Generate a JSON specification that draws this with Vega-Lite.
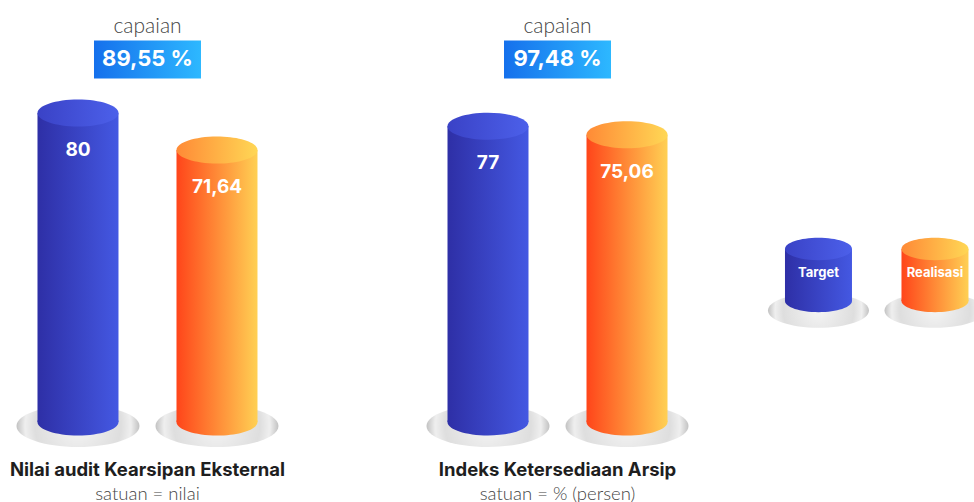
{
  "$schema": "https://vega.github.io/schema/vega-lite/v6.json",
  "padding": 0,
  "spacing": 0,
  "background": "white",
  "config": {"view": {"stroke": null}, "axis": {"disable": true}},
  "datasets": {
    "bars": [
      {"group": "Nilai audit Kearsipan Eksternal", "series": "Target", "value": 80, "label": "80"},
      {"group": "Nilai audit Kearsipan Eksternal", "series": "Realisasi", "value": 71.64, "label": "71,64"},
      {"group": "Indeks Ketersediaan Arsip", "series": "Target", "value": 77, "label": "77"},
      {"group": "Indeks Ketersediaan Arsip", "series": "Realisasi", "value": 75.06, "label": "75,06"}
    ],
    "groups": [
      {"group": "Nilai audit Kearsipan Eksternal", "capaian": "89,55 %", "satuan": "satuan = nilai"},
      {"group": "Indeks Ketersediaan Arsip", "capaian": "97,48 %", "satuan": "satuan = % (persen)"}
    ],
    "legend": [
      {"series": "Target"},
      {"series": "Realisasi"}
    ]
  },
  "hconcat": [
    {
      "width": 705,
      "height": 502,
      "encoding": {
        "x": {"field": "group", "type": "nominal", "scale": {"type": "band", "domain": ["Nilai audit Kearsipan Eksternal", "Indeks Ketersediaan Arsip"], "paddingInner": 0.32195, "paddingOuter": 0.0207}}
      },
      "layer": [
        {
          "data": {"name": "bars"},
          "mark": {"type": "point", "shape": "M-1,0C-1,-0.1886,-0.5523,-0.3415,0,-0.3415C0.5523,-0.3415,1,-0.1886,1,0C1,0.1886,0.5523,0.3415,0,0.3415C-0.5523,0.3415,-1,0.1886,-1,0Z", "size": 15129, "filled": true, "opacity": 1, "strokeWidth": 0,
            "fill": {"gradient": "radial", "x1": 0.5, "y1": 0.5, "r1": 0, "x2": 0.5, "y2": 0.5, "r2": 0.5, "stops": [{"offset": 0, "color": "#f4f4f4"}, {"offset": 0.7, "color": "#dedede"}, {"offset": 0.86, "color": "#efefef"}, {"offset": 1, "color": "#c2c2c2"}]}},
          "encoding": {
            "xOffset": {"field": "series", "type": "nominal", "sort": ["Target", "Realisasi"], "scale": {"paddingInner": 0, "paddingOuter": 0}},
            "y": {"datum": 9.28}
          }
        },
        {
          "data": {"name": "bars"},
          "mark": {"type": "point", "shape": "M-1,0C-1,-0.1841,-0.5523,-0.3333,0,-0.3333C0.5523,-0.3333,1,-0.1841,1,0C1,0.1841,0.5523,0.3333,0,0.3333C-0.5523,0.3333,-1,0.1841,-1,0Z", "size": 6561, "filled": true, "opacity": 1, "strokeWidth": 0},
          "encoding": {
            "xOffset": {"field": "series", "type": "nominal", "sort": ["Target", "Realisasi"], "scale": {"paddingInner": 0, "paddingOuter": 0}},
            "y": {"datum": 10.18},
            "fill": {
              "condition": {"test": "datum.series === 'Target'", "value": {"gradient": "linear", "x1": 0, "y1": 0, "x2": 1, "y2": 0, "stops": [{"offset": 0, "color": "#2e2fa6"}, {"offset": 1, "color": "#4458e2"}]}},
              "value": {"gradient": "linear", "x1": 0, "y1": 0, "x2": 1, "y2": 0, "stops": [{"offset": 0, "color": "#ff451a"}, {"offset": 1, "color": "#ffd054"}]}
            }
          }
        },
        {
          "data": {"name": "bars"},
          "mark": {"type": "bar", "width": 81},
          "encoding": {
            "xOffset": {"field": "series", "type": "nominal", "sort": ["Target", "Realisasi"], "scale": {"paddingInner": 0, "paddingOuter": 0}},
            "y": {"field": "value", "type": "quantitative", "scale": {"domain": [-7.89, 105.53], "nice": false, "zero": false}},
            "y2": {"datum": 10.18},
            "fill": {
              "condition": {"test": "datum.series === 'Target'", "value": {"gradient": "linear", "x1": 0, "y1": 0, "x2": 1, "y2": 0, "stops": [{"offset": 0, "color": "#2e2fa6"}, {"offset": 1, "color": "#4458e2"}]}},
              "value": {"gradient": "linear", "x1": 0, "y1": 0, "x2": 1, "y2": 0, "stops": [{"offset": 0, "color": "#ff451a"}, {"offset": 1, "color": "#ffd054"}]}
            }
          }
        },
        {
          "data": {"name": "bars"},
          "mark": {"type": "point", "shape": "M-1,0C-1,-0.1841,-0.5523,-0.3333,0,-0.3333C0.5523,-0.3333,1,-0.1841,1,0C1,0.1841,0.5523,0.3333,0,0.3333C-0.5523,0.3333,-1,0.1841,-1,0Z", "size": 6561, "filled": true, "opacity": 1, "strokeWidth": 0},
          "encoding": {
            "xOffset": {"field": "series", "type": "nominal", "sort": ["Target", "Realisasi"], "scale": {"paddingInner": 0, "paddingOuter": 0}},
            "y": {"field": "value", "type": "quantitative"},
            "fill": {
              "condition": {"test": "datum.series === 'Target'", "value": {"gradient": "linear", "x1": 0, "y1": 0, "x2": 1, "y2": 0, "stops": [{"offset": 0, "color": "#3a42c6"}, {"offset": 1, "color": "#4c60ea"}]}},
              "value": {"gradient": "linear", "x1": 0, "y1": 0, "x2": 1, "y2": 0, "stops": [{"offset": 0, "color": "#ff8a36"}, {"offset": 1, "color": "#ffd755"}]}
            }
          }
        },
        {
          "data": {"name": "bars"},
          "mark": {"type": "text", "font": "Inter", "fontWeight": 700, "fontSize": 19, "color": "#ffffff", "baseline": "middle", "align": "center", "dy": 37},
          "encoding": {
            "xOffset": {"field": "series", "type": "nominal", "sort": ["Target", "Realisasi"], "scale": {"paddingInner": 0, "paddingOuter": 0}},
            "y": {"field": "value", "type": "quantitative"},
            "text": {"field": "label"}
          }
        },
        {
          "data": {"name": "groups"},
          "mark": {"type": "text", "font": "Lato", "fontWeight": 300, "fontSize": 21, "color": "#444444", "baseline": "alphabetic", "align": "center", "text": "capaian"},
          "encoding": {"y": {"datum": 98.1}}
        },
        {
          "data": {"name": "groups"},
          "mark": {"type": "bar", "width": 107, "fill": {"gradient": "linear", "x1": 0, "y1": 0, "x2": 1, "y2": 0, "stops": [{"offset": 0, "color": "#1570ec"}, {"offset": 1, "color": "#2db8ff"}]}},
          "encoding": {"y": {"datum": 96.4}, "y2": {"datum": 87.8}}
        },
        {
          "data": {"name": "groups"},
          "mark": {"type": "text", "font": "Inter", "fontWeight": 700, "fontSize": 22, "color": "#ffffff", "baseline": "middle", "align": "center"},
          "encoding": {"y": {"datum": 92.09}, "text": {"field": "capaian"}}
        },
        {
          "data": {"name": "groups"},
          "mark": {"type": "text", "font": "Inter", "fontWeight": 700, "fontSize": 18.5, "color": "#1e1e1e", "baseline": "middle", "align": "center"},
          "encoding": {"y": {"datum": -0.66}, "text": {"field": "group"}}
        },
        {
          "data": {"name": "groups"},
          "mark": {"type": "text", "font": "Lato", "fontWeight": 300, "fontSize": 18.5, "color": "#444444", "baseline": "middle", "align": "center"},
          "encoding": {"y": {"datum": -5.97}, "text": {"field": "satuan"}}
        }
      ]
    },
    {
      "width": 269,
      "height": 502,
      "data": {"name": "legend"},
      "encoding": {
        "x": {"field": "series", "type": "nominal", "scale": {"type": "band", "domain": ["Target", "Realisasi"], "paddingInner": 0.5, "paddingOuter": 0.4045, "align": 0.895}}
      },
      "layer": [
        {
          "mark": {"type": "point", "shape": "M-1,0C-1,-0.1886,-0.5523,-0.3415,0,-0.3415C0.5523,-0.3415,1,-0.1886,1,0C1,0.1886,0.5523,0.3415,0,0.3415C-0.5523,0.3415,-1,0.1886,-1,0Z", "size": 10201, "filled": true, "opacity": 1, "strokeWidth": 0,
            "fill": {"gradient": "radial", "x1": 0.5, "y1": 0.5, "r1": 0, "x2": 0.5, "y2": 0.5, "r2": 0.5, "stops": [{"offset": 0, "color": "#f4f4f4"}, {"offset": 0.7, "color": "#dedede"}, {"offset": 0.86, "color": "#efefef"}, {"offset": 1, "color": "#c2c2c2"}]}},
          "encoding": {"y": {"datum": 35.38, "scale": {"domain": [-7.89, 105.53], "nice": false, "zero": false}}}
        },
        {
          "mark": {"type": "point", "shape": "M-1,0C-1,-0.1841,-0.5523,-0.3333,0,-0.3333C0.5523,-0.3333,1,-0.1841,1,0C1,0.1841,0.5523,0.3333,0,0.3333C-0.5523,0.3333,-1,0.1841,-1,0Z", "size": 4489, "filled": true, "opacity": 1, "strokeWidth": 0},
          "encoding": {
            "y": {"datum": 37.52},
            "fill": {
              "condition": {"test": "datum.series === 'Target'", "value": {"gradient": "linear", "x1": 0, "y1": 0, "x2": 1, "y2": 0, "stops": [{"offset": 0, "color": "#2e2fa6"}, {"offset": 1, "color": "#4458e2"}]}},
              "value": {"gradient": "linear", "x1": 0, "y1": 0, "x2": 1, "y2": 0, "stops": [{"offset": 0, "color": "#ff451a"}, {"offset": 1, "color": "#ffd054"}]}
            }
          }
        },
        {
          "mark": {"type": "bar", "width": 67},
          "encoding": {
            "y": {"datum": 49.27},
            "y2": {"datum": 37.52},
            "fill": {
              "condition": {"test": "datum.series === 'Target'", "value": {"gradient": "linear", "x1": 0, "y1": 0, "x2": 1, "y2": 0, "stops": [{"offset": 0, "color": "#2e2fa6"}, {"offset": 1, "color": "#4458e2"}]}},
              "value": {"gradient": "linear", "x1": 0, "y1": 0, "x2": 1, "y2": 0, "stops": [{"offset": 0, "color": "#ff451a"}, {"offset": 1, "color": "#ffd054"}]}
            }
          }
        },
        {
          "mark": {"type": "point", "shape": "M-1,0C-1,-0.1841,-0.5523,-0.3333,0,-0.3333C0.5523,-0.3333,1,-0.1841,1,0C1,0.1841,0.5523,0.3333,0,0.3333C-0.5523,0.3333,-1,0.1841,-1,0Z", "size": 4489, "filled": true, "opacity": 1, "strokeWidth": 0},
          "encoding": {
            "y": {"datum": 49.27},
            "fill": {
              "condition": {"test": "datum.series === 'Target'", "value": {"gradient": "linear", "x1": 0, "y1": 0, "x2": 1, "y2": 0, "stops": [{"offset": 0, "color": "#3a42c6"}, {"offset": 1, "color": "#4c60ea"}]}},
              "value": {"gradient": "linear", "x1": 0, "y1": 0, "x2": 1, "y2": 0, "stops": [{"offset": 0, "color": "#ff8a36"}, {"offset": 1, "color": "#ffd755"}]}
            }
          }
        },
        {
          "mark": {"type": "text", "font": "Inter", "fontWeight": 700, "fontSize": 13, "color": "#ffffff", "baseline": "middle", "align": "center"},
          "encoding": {"y": {"datum": 43.85}, "text": {"field": "series"}}
        }
      ]
    }
  ]
}
